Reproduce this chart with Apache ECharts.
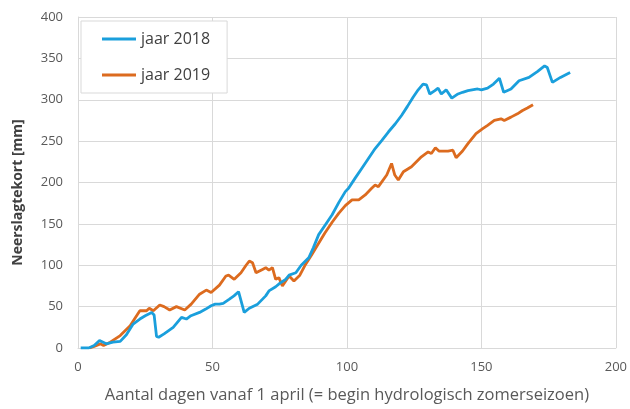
<!DOCTYPE html>
<html>
<head>
<meta charset="utf-8">
<script src="https://cdn.jsdelivr.net/npm/echarts@6/dist/echarts.min.js"></script>
<style>
html,body{margin:0;padding:0;background:#fff;}
#c{width:630px;height:409px;}
</style>
</head>
<body>
<div id="c"></div>
<script>
var seriesNames = ['jaar 2018', 'jaar 2019'];
var xTicks = [0, 50, 100, 150, 200];
var yTicks = [0, 50, 100, 150, 200, 250, 300, 350, 400];

var data2018 = [[1,0],[4,0],[6,3],[8,9],[10.5,5],[13,7],[15.7,8],[18,16],[20.5,29],[23,35],[25,39],[27.4,43],[28.3,40],[29.2,14],[30,13],[32,17],[35.4,25],[38.5,37],[40.3,35],[42,39],[45.2,43],[47.5,47],[49.5,51],[51,53],[52.6,53],[54,54],[56.3,59],[58,63],[59.7,68],[60.3,66],[61.8,43],[63.7,48],[66.8,53],[69.8,63],[71,69],[73.5,74],[75,78],[77.2,83],[78.5,88],[81,91],[83,100],[85.8,109],[87.5,121],[89.5,137],[92,149],[94.5,161],[97,176],[99.4,189],[100.6,193],[103,205],[105.5,217],[108,229],[110.5,241],[113,251],[115.4,261],[118,271],[120.3,281],[122.5,292],[124.6,303],[126.5,312],[128.3,319],[129.6,318],[130.8,307],[132.7,311],[133.9,314],[135.1,307],[136.9,312],[139,302],[141.3,307],[143,309],[145,311],[148.6,313],[150,312],[152.3,314],[154.5,319],[156.7,326],[158.3,309],[161,313],[164,323],[167.7,327],[170.8,334],[173.5,341],[174.5,339],[176.4,321],[179.4,327],[183,333]];

var data2019 = [[4.3,0],[6,2],[8.3,5],[9.5,3],[12,7],[15.7,15],[19.4,27],[21,35],[23,45],[25.5,45],[26.5,48],[28,45],[30.4,52],[32,50],[34.1,46],[36.6,50],[39.7,46],[42.1,53],[45.2,65],[47.7,70],[49.5,67],[52.6,76],[55,87],[56,88],[58.1,83],[60.6,91],[62.5,100],[63.7,105],[64.9,103],[66.2,91],[68.6,95],[69.8,97],[71,94],[72.3,97],[73.5,83],[74.7,85],[76,75],[78.5,87],[80.3,81],[82.5,88],[84.6,101],[86.8,112],[89.2,125],[91.8,139],[94.5,152],[97,163],[99.4,172],[101.9,179],[104.4,179],[106.8,185],[109.2,193],[110.5,197],[111.7,195],[114.8,209],[116.6,223],[117.8,209],[119.1,203],[121,213],[124,219],[127.7,231],[130.2,237],[131.4,235],[132.9,242],[134.2,238],[137.6,238],[139.4,239],[140.6,230],[143,238],[145,247],[148,259],[150.5,265],[152.3,269],[154.8,275],[157.3,277],[158.5,275],[161,279],[163.4,283],[165.3,287],[167.1,290],[169.2,294]];

var FONT = '"Open Sans", "Liberation Sans", sans-serif';
var chart = echarts.init(document.getElementById('c'), null, {renderer: 'canvas'});
chart.setOption({
  animation: false,
  backgroundColor: '#ffffff',
  grid: {left: 78, right: 11, top: 17, bottom: 58, containLabel: false},
  legend: {
    data: seriesNames,
    orient: 'vertical',
    left: 81, top: 21,
    padding: [9, 17, 9, 21],
    icon: 'rect',
    itemWidth: 34, itemHeight: 3, itemGap: 18,
    backgroundColor: '#ffffff',
    borderColor: '#d9d9d9', borderWidth: 1,
    textStyle: {fontFamily: FONT, fontSize: 16, lineHeight: 18, color: '#404040'}
  },
  xAxis: {
    type: 'value', min: xTicks[0], max: xTicks[xTicks.length-1], interval: 50,
    name: 'Aantal dagen vanaf 1 april (= begin hydrologisch zomerseizoen)',
    nameLocation: 'middle', nameGap: 39,
    nameTextStyle: {fontFamily: FONT, fontSize: 16.5, color: '#595959'},
    axisLine: {show: true, lineStyle: {color: '#d9d9d9', width: 1}},
    axisTick: {show: false},
    axisLabel: {fontFamily: FONT, fontSize: 13, color: '#595959', margin: 13},
    splitLine: {show: true, lineStyle: {color: '#d9d9d9', width: 1}}
  },
  yAxis: {
    type: 'value', min: yTicks[0], max: yTicks[yTicks.length-1], interval: 50,
    name: 'Neerslagtekort [mm]',
    nameLocation: 'middle', nameGap: 53,
    nameTextStyle: {fontFamily: FONT, fontSize: 14, fontWeight: 'bold', color: '#404040', padding: [0, 20, 0, 0]},
    axisLine: {show: true, lineStyle: {color: '#d9d9d9', width: 1}},
    axisTick: {show: false},
    axisLabel: {fontFamily: FONT, fontSize: 13, color: '#595959', margin: 15},
    splitLine: {show: true, lineStyle: {color: '#d9d9d9', width: 1}}
  },
  series: [
    {name: seriesNames[0], type: 'line', data: data2018, symbol: 'none', smooth: false,
     lineStyle: {color: '#1a9fdc', width: 2.8}, itemStyle: {color: '#1a9fdc'}, z: 3},
    {name: seriesNames[1], type: 'line', data: data2019, symbol: 'none', smooth: false,
     lineStyle: {color: '#dc6b1f', width: 2.8}, itemStyle: {color: '#dc6b1f'}, z: 2}
  ]
});
</script>
</body>
</html>
